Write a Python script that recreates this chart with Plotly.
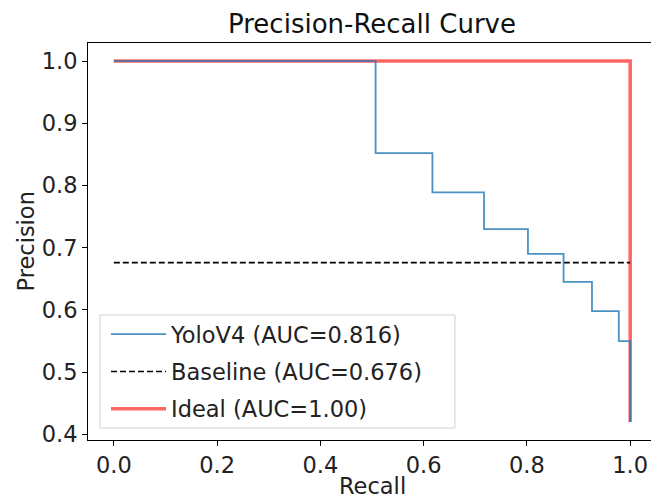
import plotly.graph_objects as go

# Data
yolo_recall = [0.0, 0.507, 0.507, 0.617, 0.617, 0.717, 0.717, 0.802, 0.802, 0.871, 0.871, 0.926, 0.926, 0.978, 0.978, 1.0, 1.0]
yolo_precision = [1.0, 1.0, 0.852, 0.852, 0.789, 0.789, 0.730, 0.730, 0.690, 0.690, 0.645, 0.645, 0.598, 0.598, 0.550, 0.550, 0.420]
baseline_recall = [0.0, 1.0]
baseline_precision = [0.676, 0.676]
ideal_recall = [0.0, 1.0, 1.0]
ideal_precision = [1.0, 1.0, 0.420]

yolo_name = "YoloV4 (AUC=0.816)"
baseline_name = "Baseline (AUC=0.676)"
ideal_name = "Ideal (AUC=1.00)"

x_ticks = [0.0, 0.2, 0.4, 0.6, 0.8, 1.0]
y_ticks = [0.4, 0.5, 0.6, 0.7, 0.8, 0.9, 1.0]

font = "DejaVu Sans, sans-serif"
fs = 22.5

fig = go.Figure()
fig.add_trace(go.Scatter(x=ideal_recall, y=ideal_precision, mode="lines", name=ideal_name,
                         line=dict(color="rgb(255,0,0)", width=3.5), opacity=0.6,
                         legendrank=3, legendgroup="c"))
fig.add_trace(go.Scatter(x=baseline_recall, y=baseline_precision, mode="lines", name=baseline_name,
                         line=dict(color="black", width=1.6, dash="6px,3px"),
                         legendrank=2, legendgroup="b"))
fig.add_trace(go.Scatter(x=yolo_recall, y=yolo_precision, mode="lines", name=yolo_name,
                         line=dict(color="#1f77b4", width=1.8), opacity=0.8,
                         legendrank=1, legendgroup="a"))

axis_common = dict(showgrid=False, zeroline=False, showline=True, linecolor="black", linewidth=1,
                   mirror=True, ticks="outside", ticklen=5, tickcolor="black", automargin=False,
                   tickfont=dict(family=font, size=fs, color="#222"))

# page body has an 8px margin; the figure is sized to fill the rest of the window
fig.update_layout(
    width=651, height=487,
    margin=dict(l=80, r=3, t=35, b=55, autoexpand=False),
    paper_bgcolor="white", plot_bgcolor="white",
    title=dict(text="Precision-Recall Curve", x=(80 + 648) / 2 / 651, xanchor="center",
               y=1 - 16 / 487, yanchor="middle", font=dict(family=font, size=26, color="#111")),
    xaxis=dict(range=[-0.05, 1.05], tickvals=x_ticks, ticktext=[f"{v:.1f}" for v in x_ticks],
               **axis_common),
    yaxis=dict(range=[0.391, 1.029], tickvals=y_ticks, ticktext=[f"{v:.1f}" for v in y_ticks],
               **axis_common),
    legend=dict(x=0.0317, y=0.3197, xanchor="left", yanchor="top",
                bgcolor="rgba(0,0,0,0)", borderwidth=0,
                font=dict(family=font, size=fs, color="#222"), tracegroupgap=5,
                itemwidth=55),
    shapes=[
        dict(type="rect", xref="paper", yref="paper", x0=0.0211, x1=0.646, y0=0.0302, y1=0.3149,
             line=dict(color="#d0d0d0", width=1), fillcolor="rgba(255,255,255,0.8)", layer="above"),
    ],
    annotations=[
        dict(text="Recall", xref="paper", yref="paper", x=0.5, y=-(486 - 440) / 397,
             xanchor="center", yanchor="middle", showarrow=False,
             font=dict(family=font, size=fs, color="#222")),
        dict(text="Precision", xref="paper", yref="paper", x=(25 - 88) / 568, y=0.5,
             xanchor="center", yanchor="middle", showarrow=False, textangle=-90,
             font=dict(family=font, size=fs, color="#222")),
    ],
    showlegend=True,
)

fig.write_html("out.html")
